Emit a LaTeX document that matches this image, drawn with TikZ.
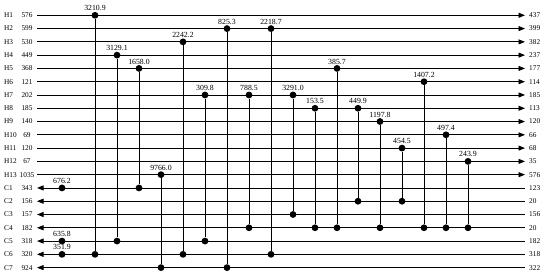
\documentclass[tikz,border=0pt]{standalone}
\usepackage{fontspec}
\setmainfont{Liberation Serif}
\usetikzlibrary{arrows.meta, positioning}

\begin{document}
\begin{tikzpicture}[
  x=1pt, y=-1pt,
  >={Triangle[length=6.5pt, width=5pt]},
  stream/.style={line width=0.8pt},
  tag/.style={font=\fontsize{7.3}{8}\selectfont, inner sep=0pt},
  dot/.style={circle, fill, inner sep=0pt, minimum size=6.8pt},
  duty/.style={font=\fontsize{7.8}{8}\selectfont, inner sep=0.5pt}
]
\useasboundingbox (0,0) rectangle (550,278);
% hot streams
\foreach \i/\a/\b in {1/576/437, 2/599/399, 3/530/382, 4/449/237, 5/368/177,
  6/121/114, 7/202/185, 8/185/113, 9/140/120, 10/69/66, 11/120/68, 12/67/35, 13/1035/576} {
  \pgfmathsetmacro\yy{15.3+13.28*(\i-1)}
  \coordinate (hw\i) at (37,\yy);
  \coordinate (he\i) at (525,\yy);
  \node[tag, anchor=west] (hname\i) at (4,\yy) {H\i};
  \node[tag] (hin\i) at (27,\yy) {\a};
  \node[tag, anchor=west] (hout\i) at (529,\yy) {\b};
  \draw[stream, ->] (hw\i) -- (he\i);
}
% cold streams
\foreach \j/\a/\b in {1/343/123, 2/156/20, 3/157/156, 4/182/20, 5/318/182, 6/320/318, 7/924/322} {
  \pgfmathsetmacro\yy{15.3+13.28*(\j+12)}
  \coordinate (cw\j) at (37,\yy);
  \coordinate (ce\j) at (525,\yy);
  \node[tag, anchor=west] (cname\j) at (4,\yy) {C\j};
  \node[tag] (cin\j) at (27,\yy) {\a};
  \node[tag, anchor=west] (cout\j) at (529,\yy) {\b};
  \draw[stream, <-] (cw\j) -- (ce\j);
}
% exchangers
\foreach \k/\xx/\h/\c/\q in {1/95/1/6/3210.9, 2/117/4/5/3129.1, 3/139/5/1/1658.0,
  4/161/13/7/9766.0, 5/183/3/6/2242.2, 6/205/7/5/309.8, 7/227/2/7/825.3,
  8/249/7/4/788.5, 9/271/2/6/2218.7, 10/293/7/3/3291.0, 11/315/8/4/153.5,
  12/337/5/4/385.7, 13/358/8/2/449.9, 14/380/9/4/1197.8, 15/402/11/2/454.5,
  16/424/6/4/1407.2, 17/446/10/4/497.4, 18/468/12/4/243.9} {
  \node[dot, label={[duty]above:\q}] (xt\k) at (\xx,0 |- hw\h) {};
  \node[dot] (xb\k) at (\xx,0 |- cw\c) {};
  \draw[stream] (xt\k) -- (xb\k);
}
% heaters
\node[dot, label={[duty]above:676.2}] (heat1) at (62,0 |- cw1) {};
\node[dot, label={[duty]above:635.8}] (heat5) at (62,0 |- cw5) {};
\node[dot, label={[duty]above:351.9}] (heat6) at (62,0 |- cw6) {};
\end{tikzpicture}
\end{document}
